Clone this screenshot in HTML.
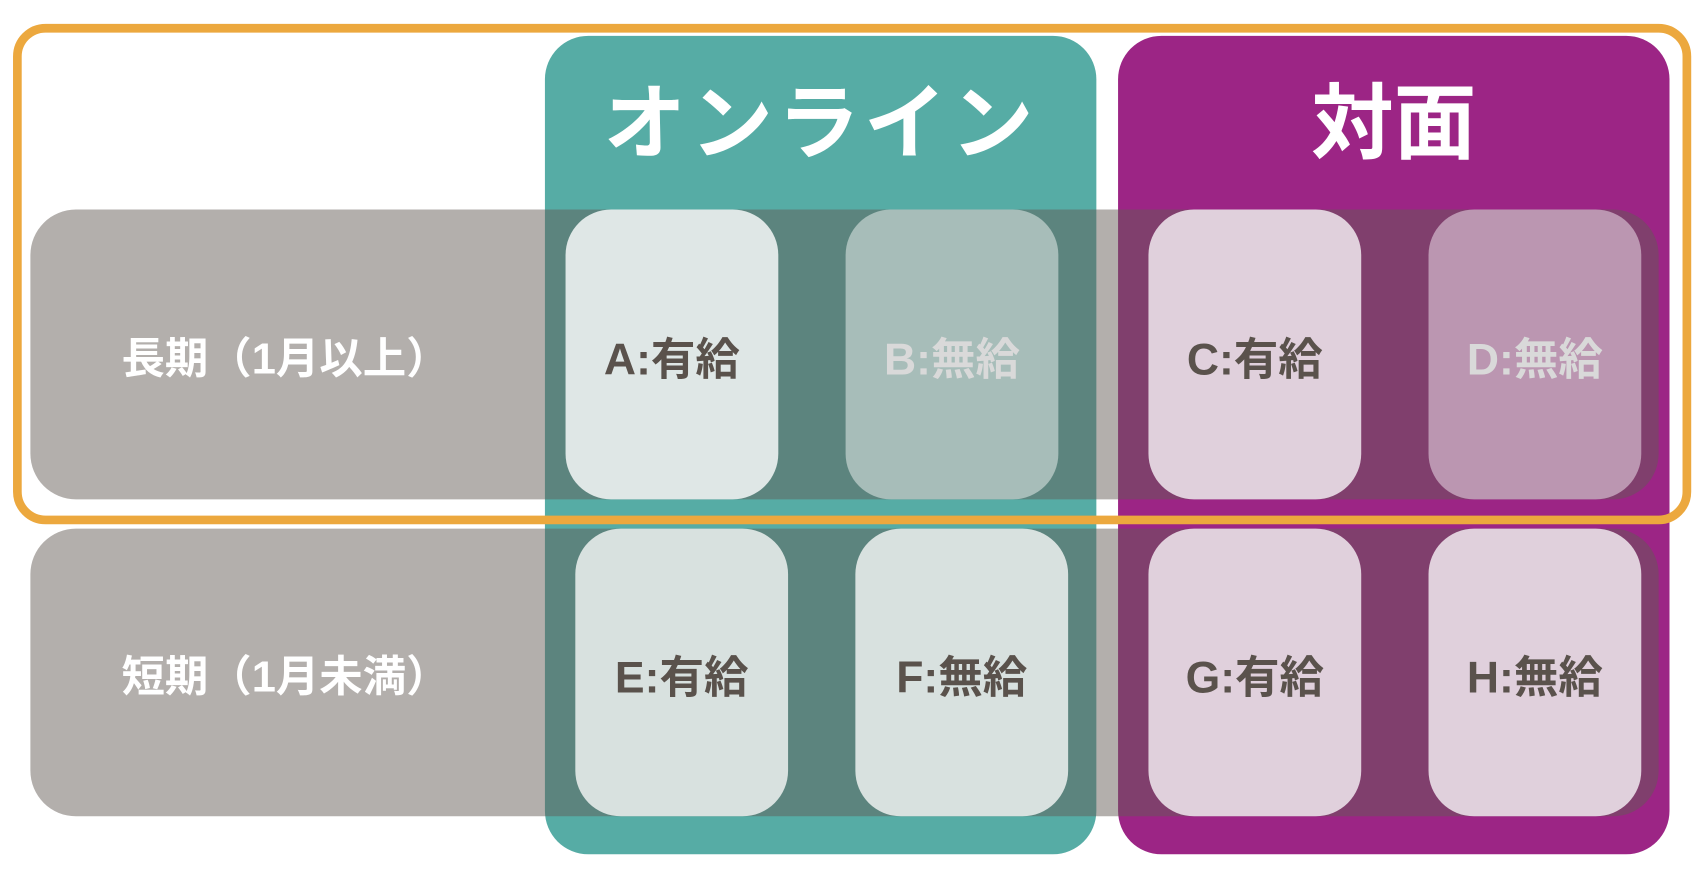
<!DOCTYPE html>
<html><head><meta charset="utf-8"><style>
html,body{margin:0;padding:0;background:#fff;width:1702px;height:874px;overflow:hidden}
#w{position:absolute;left:0;top:0;width:1568px;height:805px;transform:scale(1.0855);transform-origin:0 0;font-family:"Liberation Sans","Noto Sans CJK JP",sans-serif;font-weight:bold}
.a{position:absolute;box-sizing:border-box}
.col{border-radius:40px;top:33px;height:754px;width:508px}
.row{left:28px;width:1500px;border-radius:42px;background:rgba(98,90,84,0.485)}
.card{border-radius:42px;width:196px;display:flex;align-items:center;justify-content:center;font-size:41px;color:#5a524c}
.lab{color:#fff;font-size:40px;display:flex;align-items:center;justify-content:center;left:28px;width:470px}
.hd{color:#fff;font-size:76px;text-align:center;top:52px;width:508px}
</style></head><body><div id="w">
<div class="a col" style="left:502px;background:#56aca5"></div>
<div class="a col" style="left:1030px;background:#9c2585"></div>
<div class="a hd" style="left:502px;letter-spacing:4px">オンライン</div>
<div class="a hd" style="left:1030px">対面</div>
<div class="a row" style="top:193px;height:267px"></div>
<div class="a row" style="top:487px;height:265px"></div>
<div class="a lab" style="top:193px;height:267px">長期（1月以上）</div>
<div class="a lab" style="top:487px;height:265px">短期（1月未満）</div>
<div class="a card" style="left:521px;top:193px;height:267px;background:#dfe7e6">A:有給</div>
<div class="a card" style="left:779px;top:193px;height:267px;background:#a7bdb9;color:#d9d9d9">B:無給</div>
<div class="a card" style="left:1058px;top:193px;height:267px;background:#e0d0dc">C:有給</div>
<div class="a card" style="left:1316px;top:193px;height:267px;background:#bb96b1;color:#d9d9d9">D:無給</div>
<div class="a card" style="left:530px;top:487px;height:265px;background:#d8e1df">E:有給</div>
<div class="a card" style="left:788px;top:487px;height:265px;background:#d8e1df">F:無給</div>
<div class="a card" style="left:1058px;top:487px;height:265px;background:#e0d0dc">G:有給</div>
<div class="a card" style="left:1316px;top:487px;height:265px;background:#e0d0dc">H:無給</div>
<div class="a" style="left:12px;top:22px;width:1546px;height:461px;border:8px solid #eca83e;border-radius:30px"></div>
</div></body></html>
